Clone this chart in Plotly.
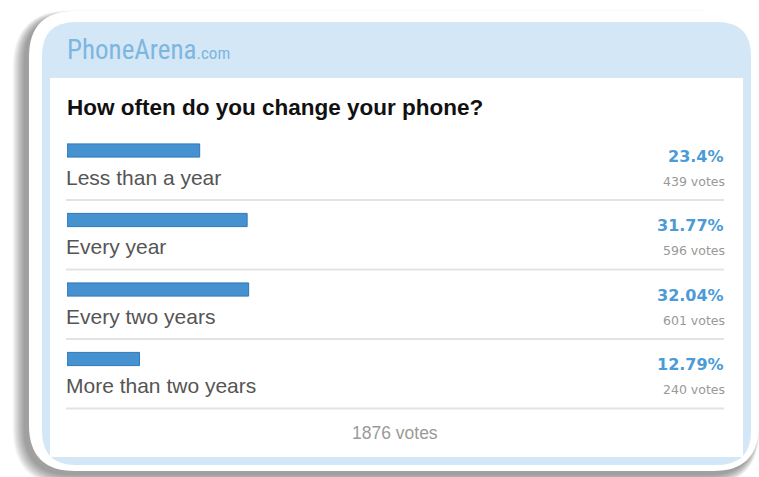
import plotly.graph_objects as go

# ---------------- data ----------------
categories = ["Less than a year", "Every year", "Every two years", "More than two years"]
percents = [23.4, 31.77, 32.04, 12.79]
votes = [439, 596, 601, 240]
title_text = "How often do you change your phone?"
total_votes = sum(votes)

W, H = 759, 477


def rrect(x0, y0, x1, y1, r):
    return (f"M {x0+r},{y0} L {x1-r},{y0} Q {x1},{y0} {x1},{y0+r} "
            f"L {x1},{y1-r} Q {x1},{y1} {x1-r},{y1} L {x0+r},{y1} "
            f"Q {x0},{y1} {x0},{y1-r} L {x0},{y0+r} Q {x0},{y0} {x0+r},{y0} Z")


def px(x):
    return x / W


def py(y):
    return 1 - y / H


shapes = []
# soft card shadow (offset to lower-left, layered to fake a blur)
for k in range(16):
    e = k * 0.75
    shapes.append(dict(type="path", xref="x", yref="y",
                       path=rrect(24 - e, 16 - e * 0.5, 755 + e * 0.4, 475 + e, 46 + e),
                       fillcolor="rgba(30,30,30,0.032)", line=dict(width=0), layer="below"))
# card
shapes.append(dict(type="path", xref="x", yref="y", path=rrect(29, 11, 759, 471, 46),
                   fillcolor="white", line=dict(width=0), layer="below"))
# blue panel
shapes.append(dict(type="path", xref="x", yref="y", path=rrect(42, 22, 751, 465, 34),
                   fillcolor="#d4e7f6", line=dict(width=0), layer="below"))
# white content
shapes.append(dict(type="rect", xref="x", yref="y", x0=50, x1=743, y0=78, y1=457,
                   fillcolor="white", line=dict(width=0), layer="below"))
# separators
row_top, row_h = 200, 69.5
for i in range(len(categories)):
    yy = row_top + i * row_h
    shapes.append(dict(type="line", xref="x", yref="y", x0=66, x1=724, y0=yy, y1=yy,
                       line=dict(color="#e3e3e3", width=2), layer="below"))

fig = go.Figure()
fig.add_trace(go.Bar(
    x=percents, y=categories, orientation="h", xaxis="x2", yaxis="y2",
    width=0.19, marker=dict(color="#4692d0", line=dict(color="#2e78ba", width=1)),
    hoverinfo="skip", showlegend=False))

annotations = []
annotations.append(dict(xref="paper", yref="paper", x=px(65), y=py(50), xanchor="left", yanchor="middle",
                        text="PhoneArena<span style='font-size:17px'>.com</span>", showarrow=False,
                        font=dict(family="Liberation Sans Narrow, Roboto Condensed, Arial Narrow, Liberation Sans",
                                  size=27, color="#7db6df")))
annotations.append(dict(xref="paper", yref="paper", x=px(65), y=py(108), xanchor="left", yanchor="middle",
                        text=f"<b>{title_text}</b>", showarrow=False,
                        font=dict(family="Liberation Sans, Arial", size=22.5, color="#111111")))
for cat, p, v in zip(categories, percents, votes):
    annotations.append(dict(xref="x2", yref="y2", x=0, y=cat, xanchor="left", yanchor="middle",
                            yshift=-26.5, xshift=-3, text=cat, showarrow=False,
                            font=dict(family="Liberation Sans, Arial", size=21, color="#555555")))
    annotations.append(dict(xref="paper", yref="y2", x=px(726), y=cat, xanchor="right", yanchor="middle",
                            yshift=-5.5, text=f"<b>{p:g}%</b>", showarrow=False,
                            font=dict(family="DejaVu Sans, Verdana", size=16, color="#4b9bd6")))
    annotations.append(dict(xref="paper", yref="y2", x=px(727), y=cat, xanchor="right", yanchor="middle",
                            yshift=-30.5, text=f"{v} votes", showarrow=False,
                            font=dict(family="DejaVu Sans, Verdana", size=12.5, color="#999999")))
annotations.append(dict(xref="paper", yref="paper", x=px(395), y=py(433), xanchor="center", yanchor="middle",
                        text=f"{total_votes} votes", showarrow=False,
                        font=dict(family="Liberation Sans, Arial", size=17.5, color="#9a9a9a")))

# bar axis geometry
top_c, pitch = 150.5, 69.5
dom_top = top_c - pitch / 2
dom_bot = dom_top + pitch * len(categories)

fig.update_layout(
    width=W, height=H, margin=dict(l=0, r=0, t=0, b=0),
    paper_bgcolor="white", plot_bgcolor="rgba(0,0,0,0)",
    xaxis=dict(range=[0, W], visible=False, domain=[0, 1], fixedrange=True),
    yaxis=dict(range=[H, 0], visible=False, domain=[0, 1], fixedrange=True),
    xaxis2=dict(range=[0, 100], domain=[px(67), px(634)], visible=False, anchor="y2"),
    yaxis2=dict(categoryorder="array", categoryarray=categories,
                range=[len(categories) - 0.5, -0.5], domain=[py(dom_bot), py(dom_top)],
                visible=False, anchor="x2"),
    shapes=shapes, annotations=annotations, showlegend=False,
)

fig.write_html("out.html", config={"displayModeBar": False})
